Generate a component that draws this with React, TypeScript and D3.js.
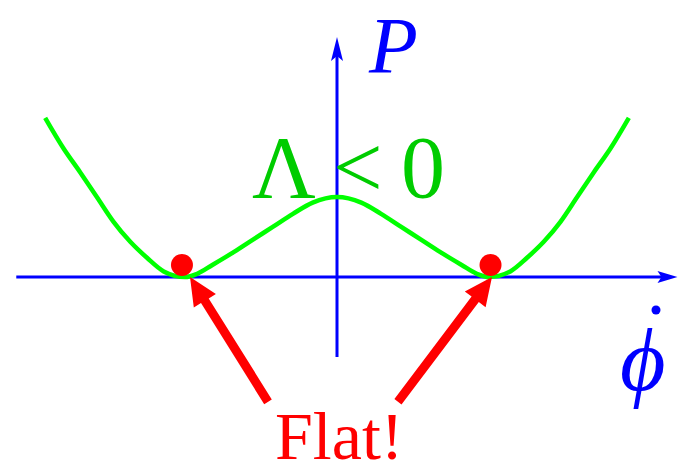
import React from "react";
import * as d3 from "d3";

const phiDot = [-1.92, -1.8, -1.69, -1.58, -1.47, -1.36, -1.25, -1.14, -1.0, -0.92, -0.82, -0.68, -0.55, -0.42, -0.29, -0.16, 0, 0.16, 0.29, 0.42, 0.55, 0.68, 0.82, 0.92, 1.0, 1.14, 1.25, 1.36, 1.47, 1.58, 1.69, 1.8, 1.92];
const pValues = [1.99, 1.61, 1.31, 1.0, 0.69, 0.44, 0.24, 0.07, 0, 0.04, 0.15, 0.31, 0.47, 0.63, 0.79, 0.93, 1.0, 0.93, 0.79, 0.63, 0.47, 0.31, 0.15, 0.04, 0, 0.07, 0.24, 0.44, 0.69, 1.0, 1.31, 1.61, 1.99];

const minimaX = [-1.02, 1.01];
const minimaP = [0.15, 0.15];

const arrowTailX = [-0.454, 0.401];
const arrowTailP = [-1.56, -1.56];
const arrowTipX = [-0.967, 1.02];
const arrowTipP = [0.0, 0.0];

const xAxisRange = [-2.11, 2.24];
const yAxisRange = [-1.0, 3.0];

const W = 681;
const H = 474;

export default function App() {
  const x = d3.scaleLinear().domain([0, 1]).range([337, 489]);
  const y = d3.scaleLinear().domain([0, 1]).range([277, 197]);

  const line = d3
    .line<number>()
    .x((_, i) => x(phiDot[i]))
    .y((_, i) => y(pValues[i]))
    .curve(d3.curveMonotoneX);

  const blue = "#0000ff";
  const red = "#ff0000";

  const hx0 = x(xAxisRange[0]);
  const hx1 = x(xAxisRange[1]);
  const hy = y(0);
  const vx = x(0);
  const vy0 = y(yAxisRange[0]);
  const vy1 = y(yAxisRange[1]);

  const arrows = arrowTailX.map((tx, i) => {
    const x1 = x(tx);
    const y1 = y(arrowTailP[i]);
    const x2 = x(arrowTipX[i]);
    const y2 = y(arrowTipP[i]);
    const dx = x2 - x1;
    const dy = y2 - y1;
    const len = Math.hypot(dx, dy);
    const ux = dx / len;
    const uy = dy / len;
    const px = -uy;
    const py = ux;
    const headLen = 28;
    const headHalf = 13;
    const shaftHalf = 4.5;
    const bx = x2 - ux * headLen;
    const by = y2 - uy * headLen;
    const pts = [
      [x1 + px * shaftHalf, y1 + py * shaftHalf],
      [bx + px * shaftHalf, by + py * shaftHalf],
      [bx + px * headHalf, by + py * headHalf],
      [x2, y2],
      [bx - px * headHalf, by - py * headHalf],
      [bx - px * shaftHalf, by - py * shaftHalf],
      [x1 - px * shaftHalf, y1 - py * shaftHalf],
    ];
    return "M" + pts.map((p) => p[0].toFixed(1) + "," + p[1].toFixed(1)).join("L") + "Z";
  });

  return (
    <svg
      width={W}
      height={H}
      style={{ position: "absolute", left: 0, top: 0, background: "#fff" }}
      fontFamily="'Liberation Serif', 'Times New Roman', serif"
    >
      <line x1={hx0} y1={hy} x2={hx1 - 14} y2={hy} stroke={blue} strokeWidth={3} />
      <path
        d={`M${hx1},${hy} L${hx1 - 20},${hy - 6} L${hx1 - 16},${hy} L${hx1 - 20},${hy + 6} Z`}
        fill={blue}
      />
      <line x1={vx} y1={vy0} x2={vx} y2={vy1 + 14} stroke={blue} strokeWidth={3} />
      <path
        d={`M${vx},${vy1} L${vx - 6},${vy1 + 24} L${vx},${vy1 + 19} L${vx + 6},${vy1 + 24} Z`}
        fill={blue}
      />

      <path d={line(phiDot) || ""} fill="none" stroke="#00ff00" strokeWidth={4.5} strokeLinejoin="round" />

      {minimaX.map((m, i) => (
        <circle key={i} cx={x(m)} cy={y(minimaP[i])} r={11} fill={red} />
      ))}

      {arrows.map((d, i) => (
        <path key={i} d={d} fill={red} />
      ))}

      <text x={369} y={73} fontSize={80} fontStyle="italic" fill={blue}>
        P
      </text>
      <g fill="#00cc00" fontSize={88}>
        <text x={252} y={197}>Λ</text>
        <text x={333} y={197}>&lt;</text>
        <text x={401} y={197}>0</text>
      </g>
      <text x={275} y={459} fontSize={68} fill={red}>
        Flat!
      </text>
      <text x={620} y={390} fontSize={88} fontStyle="italic" fill={blue}>
        ϕ
      </text>
      <circle cx={656} cy={310} r={4.5} fill={blue} />
    </svg>
  );
}
